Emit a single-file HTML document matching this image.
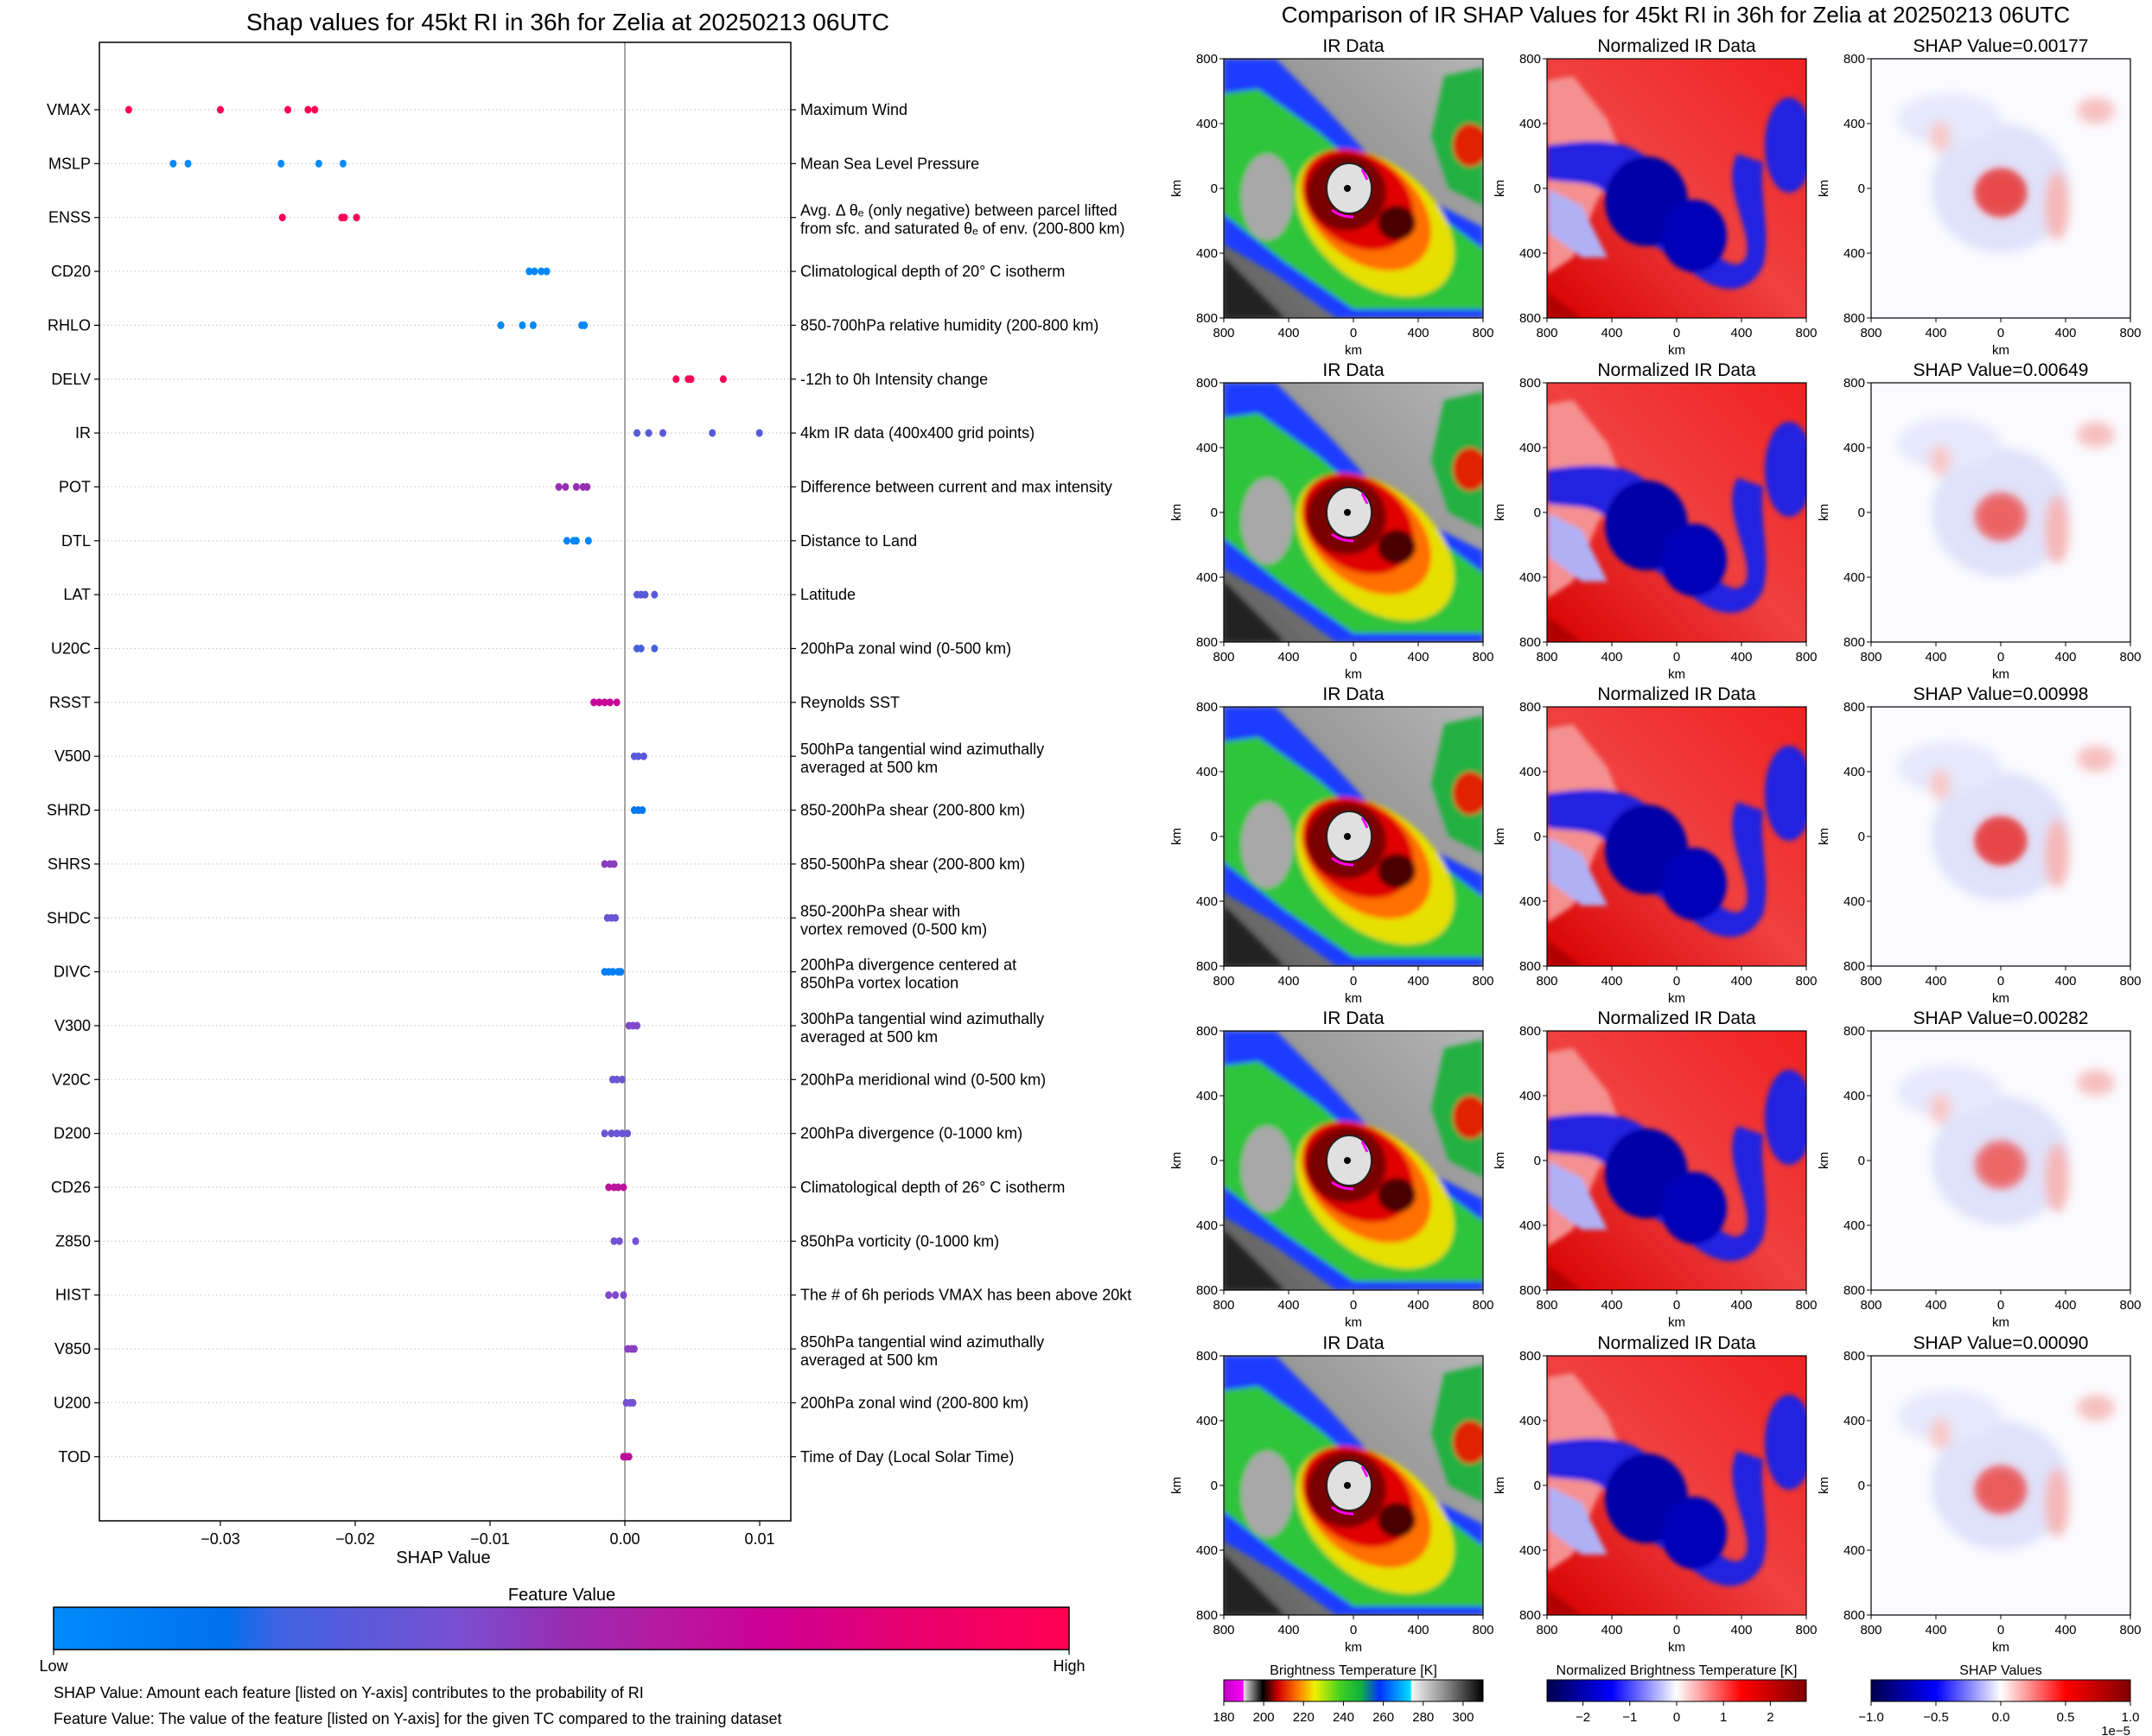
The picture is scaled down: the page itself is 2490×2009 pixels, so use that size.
<!DOCTYPE html>
<html><head><meta charset="utf-8"><title>SHAP RI Zelia</title>
<style>
html,body{margin:0;padding:0;background:#fff;}
svg{display:block;font-family:"Liberation Sans","DejaVu Sans",sans-serif;}
</style></head>
<body>
<svg id="root" xmlns="http://www.w3.org/2000/svg" width="2490" height="2009" viewBox="0 0 2490 2009">
<defs>
  <linearGradient id="fvGrad" x1="0" x2="1" y1="0" y2="0">
    <stop offset="0" stop-color="#008bfb"/><stop offset="0.17" stop-color="#0070ed"/>
    <stop offset="0.22" stop-color="#3e63e2"/><stop offset="0.4" stop-color="#7a4fd0"/>
    <stop offset="0.5" stop-color="#962eb2"/><stop offset="0.6" stop-color="#b51aa0"/>
    <stop offset="0.7" stop-color="#cc0096"/><stop offset="0.85" stop-color="#e8006c"/>
    <stop offset="1" stop-color="#ff0052"/>
  </linearGradient>
  <linearGradient id="irGrad" x1="0" x2="1" y1="0" y2="0">
    <stop offset="0" stop-color="#c000c0"/><stop offset="0.075" stop-color="#ff00ff"/>
    <stop offset="0.077" stop-color="#e0e0e0"/><stop offset="0.15" stop-color="#000"/>
    <stop offset="0.21" stop-color="#d00000"/><stop offset="0.28" stop-color="#ff7000"/>
    <stop offset="0.35" stop-color="#f0f000"/><stop offset="0.45" stop-color="#40d020"/>
    <stop offset="0.53" stop-color="#10b040"/><stop offset="0.6" stop-color="#0030ff"/>
    <stop offset="0.72" stop-color="#00e0ff"/><stop offset="0.725" stop-color="#f4f4f4"/>
    <stop offset="0.85" stop-color="#909090"/><stop offset="1" stop-color="#000"/>
  </linearGradient>
  <linearGradient id="seisGrad" x1="0" x2="1" y1="0" y2="0">
    <stop offset="0" stop-color="#00004c"/><stop offset="0.25" stop-color="#0000ff"/>
    <stop offset="0.5" stop-color="#ffffff"/><stop offset="0.75" stop-color="#ff0000"/>
    <stop offset="1" stop-color="#800000"/>
  </linearGradient>
  <linearGradient id="grayBg" x1="0" y1="1" x2="1" y2="0">
    <stop offset="0" stop-color="#555"/><stop offset="0.4" stop-color="#8a8a8a"/><stop offset="1" stop-color="#b5b5b5"/>
  </linearGradient>
  <linearGradient id="redBg" x1="0" y1="1" x2="1" y2="0">
    <stop offset="0" stop-color="#d80000"/><stop offset="0.5" stop-color="#f04040"/><stop offset="1" stop-color="#f02020"/>
  </linearGradient>
  <filter id="blur3"><feGaussianBlur stdDeviation="3"/></filter>
  <filter id="blur6"><feGaussianBlur stdDeviation="6"/></filter>
  <symbol id="irImg" viewBox="0 0 300 300" preserveAspectRatio="none">
    <rect width="300" height="300" fill="url(#grayBg)"/>
    <g filter="url(#blur3)">
      <polygon points="0,0 60,0 120,60 180,125 240,165 300,195 300,300 130,300 60,250 0,215" fill="#1a3cff"/>
      <polygon points="0,40 40,35 110,85 180,145 260,190 300,220 300,290 150,290 70,235 0,180" fill="#2ec43a"/>
      <ellipse cx="50" cy="160" rx="30" ry="50" fill="#a8a8a8"/>
      <ellipse cx="175" cy="190" rx="105" ry="68" transform="rotate(40 175 190)" fill="#e6e000"/>
      <ellipse cx="165" cy="175" rx="85" ry="58" transform="rotate(40 165 175)" fill="#ff7000"/>
      <ellipse cx="155" cy="163" rx="70" ry="52" transform="rotate(35 155 163)" fill="#e00000"/>
      <ellipse cx="142" cy="155" rx="46" ry="44" fill="#7a0000"/>
      <ellipse cx="200" cy="190" rx="22" ry="20" fill="#4a0000"/>
      <polygon points="255,20 300,10 300,170 260,150 240,90" fill="#20b040"/>
      <ellipse cx="285" cy="100" rx="20" ry="25" fill="#e02000"/>
      <polygon points="0,230 70,300 0,300" fill="#222"/>
    </g>
    <ellipse cx="145" cy="150" rx="26" ry="29" fill="#e0e0e0" stroke="#222" stroke-width="2"/>
    <circle cx="143" cy="150" r="4" fill="#000"/>
    <path d="M125 175 q10 8 25 8" stroke="#ff00ff" stroke-width="3" fill="none"/>
    <path d="M160 128 l6 12" stroke="#ff00ff" stroke-width="3"/>
  </symbol>
  <symbol id="normImg" viewBox="0 0 300 300" preserveAspectRatio="none">
    <rect width="300" height="300" fill="url(#redBg)"/>
    <g filter="url(#blur3)">
      <polygon points="0,25 30,20 70,70 90,120 60,160 30,230 0,250" fill="#f59090"/>
      <path d="M0,100 C40,95 80,90 110,110 C140,130 150,160 170,190 C190,230 220,250 230,230 C240,200 200,150 220,110 L250,120 C245,160 260,200 250,240 C230,280 190,270 160,240 C120,210 80,200 70,160 C60,140 30,145 0,140 Z" fill="#2020e0"/>
      <ellipse cx="115" cy="165" rx="48" ry="52" fill="#0000a8"/>
      <ellipse cx="170" cy="205" rx="38" ry="42" fill="#0000b8"/>
      <ellipse cx="280" cy="100" rx="28" ry="55" fill="#2020e0"/>
      <polygon points="0,150 40,170 70,230 40,230 0,200" fill="#b0b0f5"/>
      <polygon points="0,270 40,300 0,300" fill="#b00000"/>
    </g>
  </symbol>
  <symbol id="shapImg" viewBox="0 0 300 300" preserveAspectRatio="none">
    <rect width="300" height="300" fill="#fbfbff"/>
    <g filter="url(#blur6)">
      <ellipse cx="150" cy="150" rx="80" ry="75" fill="#dfe2fb"/>
      <ellipse cx="90" cy="70" rx="60" ry="30" fill="#e6e8fc"/>
      <ellipse cx="150" cy="155" rx="30" ry="28" fill="#f07a7a"/>
      <ellipse cx="215" cy="170" rx="14" ry="40" fill="#f6b6b6"/>
      <ellipse cx="80" cy="90" rx="12" ry="18" fill="#f8c8c8"/>
      <ellipse cx="260" cy="60" rx="22" ry="15" fill="#f6c0c0"/>
    </g>
  </symbol>
</defs>
<g id="leftChart"></g>
<g id="rightPanels"></g>
</svg>
<script>
// ---- SHAP summary chart data ----
const features = ["VMAX","MSLP","ENSS","CD20","RHLO","DELV","IR","POT","DTL","LAT","U20C","RSST","V500","SHRD","SHRS","SHDC","DIVC","V300","V20C","D200","CD26","Z850","HIST","V850","U200","TOD"];
const descriptions = [
 ["Maximum Wind"],["Mean Sea Level Pressure"],
 ["Avg. \u0394 \u03b8\u2091 (only negative) between parcel lifted","from sfc. and saturated \u03b8\u2091 of env. (200-800 km)"],
 ["Climatological depth of 20\u00b0 C isotherm"],["850-700hPa relative humidity (200-800 km)"],
 ["-12h to 0h Intensity change"],["4km IR data (400x400 grid points)"],
 ["Difference between current and max intensity"],["Distance to Land"],["Latitude"],
 ["200hPa zonal wind (0-500 km)"],["Reynolds SST"],
 ["500hPa tangential wind azimuthally","averaged at 500 km"],["850-200hPa shear (200-800 km)"],
 ["850-500hPa shear (200-800 km)"],["850-200hPa shear with","vortex removed (0-500 km)"],
 ["200hPa divergence centered at","850hPa vortex location"],["300hPa tangential wind azimuthally","averaged at 500 km"],
 ["200hPa meridional wind (0-500 km)"],["200hPa divergence (0-1000 km)"],
 ["Climatological depth of 26\u00b0 C isotherm"],["850hPa vorticity (0-1000 km)"],
 ["The # of 6h periods VMAX has been above 20kt"],["850hPa tangential wind azimuthally","averaged at 500 km"],
 ["200hPa zonal wind (200-800 km)"],["Time of Day (Local Solar Time)"]
];
const shapValues = [
 [-0.0368,-0.0300,-0.0250,-0.0235,-0.0230],
 [-0.0335,-0.0324,-0.0255,-0.0227,-0.0209],
 [-0.0254,-0.0210,-0.0208,-0.0199],
 [-0.0071,-0.0067,-0.0062,-0.0058],
 [-0.0092,-0.0076,-0.0068,-0.0032,-0.0030],
 [0.0038,0.0047,0.0049,0.0073],
 [0.00090,0.00177,0.00282,0.00649,0.00998],
 [-0.0049,-0.0044,-0.0036,-0.0031,-0.0028],
 [-0.0043,-0.0038,-0.0036,-0.0027],
 [0.0009,0.0012,0.0015,0.0022],
 [0.0009,0.0012,0.0022],
 [-0.0023,-0.0019,-0.0015,-0.0011,-0.0006],
 [0.0007,0.0010,0.0014],
 [0.0007,0.0010,0.0013],
 [-0.0015,-0.0011,-0.0008],
 [-0.0013,-0.0010,-0.0007],
 [-0.0015,-0.0012,-0.0009,-0.0005,-0.0003],
 [0.0003,0.0006,0.0009],
 [-0.0009,-0.0006,-0.0002],
 [-0.0015,-0.0010,-0.0006,-0.0002,0.0002],
 [-0.0012,-0.0008,-0.0005,-0.0001],
 [-0.0008,-0.0004,0.0008],
 [-0.0012,-0.0007,-0.0001],
 [0.0002,0.0005,0.0007],
 [0.0001,0.0004,0.0006],
 [-0.0001,0.0001,0.0003]
];
const featureFrac = [1.0,0.0,0.97,0.02,0.02,0.98,0.3,0.5,0.03,0.3,0.25,0.68,0.3,0.12,0.45,0.35,0.08,0.42,0.35,0.35,0.62,0.38,0.42,0.45,0.38,0.65];
const xTicks = [-0.03,-0.02,-0.01,0.0,0.01];
const xTickLabels = ["\u22120.03","\u22120.02","\u22120.01","0.00","0.01"];
const shapPanelValues = ["0.00177","0.00649","0.00998","0.00282","0.00090"];
const irTicks = [180,200,220,240,260,280,300];
const normTicks = [-2,-1,0,1,2];
const shapCbTicks = ["\u22121.0","\u22120.5","0.0","0.5","1.0"];

const NS = "http://www.w3.org/2000/svg";
function el(tag, attrs, parent){ const e=document.createElementNS(NS,tag); for(const k in attrs) e.setAttribute(k,attrs[k]); parent.appendChild(e); return e; }

// axis functions
const AX = {left:115, right:915, top:49, bottom:1760};
function xScale(v){ return 723 + v*15600; }
function yRow(i){ return 127 + i*62.35; }
const cmapStops = [[0,[0,139,251]],[0.17,[0,112,237]],[0.22,[62,99,226]],[0.4,[122,79,208]],[0.5,[150,46,178]],[0.6,[181,26,160]],[0.7,[204,0,150]],[0.85,[232,0,108]],[1,[255,0,82]]];
function cmap(t){ for(let i=1;i<cmapStops.length;i++){ if(t<=cmapStops[i][0]){ const a=cmapStops[i-1],b=cmapStops[i]; const f=(t-a[0])/(b[0]-a[0]); const c=a[1].map((v,j)=>Math.round(v+(b[1][j]-v)*f)); return "rgb("+c.join(",")+")"; } } return "rgb(255,0,82)"; }

const L = document.getElementById("leftChart");
let t = el("text",{x:657,y:35,"text-anchor":"middle","font-size":28,fill:"#000"},L);


t.textContent="Shap values for 45kt RI in 36h for Zelia at 20250213 06UTC";

features.forEach((f,i)=>{
  const y=yRow(i);
  const g=el("line",{x1:AX.left,x2:AX.right,y1:y,y2:y,stroke:"#ccc","stroke-width":1.2,"stroke-dasharray":"1.5,3"},L);
  
  
  const tk=el("line",{x1:AX.left-6,x2:AX.left,y1:y,y2:y,stroke:"#000","stroke-width":1.2},L);
  
  
  const tk2=el("line",{x1:AX.right,x2:AX.right+6,y1:y,y2:y,stroke:"#000","stroke-width":1.2},L);
  
  
  const lab=el("text",{x:AX.left-10,y:y+6,"text-anchor":"end","font-size":18,fill:"#000"},L);
  
  
  lab.textContent=f;
  const d=descriptions[i];
  const dt=el("text",{x:926,y:(d.length>1? y-2 : y+6),"font-size":18,fill:"#000"},L);
  
  
  d.forEach((line,k)=>{ const ts=el("tspan",{x:926,dy:(k===0?0:21)},dt); ts.textContent=line; });
});
let zl=el("line",{x1:xScale(0),x2:xScale(0),y1:AX.top,y2:AX.bottom,stroke:"#888","stroke-width":1.5},L);


shapValues.forEach((vals,i)=>{
  vals.forEach(v=>{
    const c=el("ellipse",{cx:xScale(v),cy:yRow(i),rx:4,ry:4.5,fill:cmap(featureFrac[i])},L);
    
    
  });
});
let fr=el("rect",{x:AX.left,y:AX.top,width:AX.right-AX.left,height:AX.bottom-AX.top,fill:"none",stroke:"#000","stroke-width":1.5},L);


xTicks.forEach((v,i)=>{
  const x=xScale(v);
  const tk=el("line",{x1:x,x2:x,y1:AX.bottom,y2:AX.bottom+6,stroke:"#000","stroke-width":1.2},L);
  
  
  const tl=el("text",{x:x,y:AX.bottom+27,"text-anchor":"middle","font-size":18,fill:"#000"},L);
  
  
  tl.textContent=xTickLabels[i];
});
let xl=el("text",{x:513,y:1809,"text-anchor":"middle","font-size":20,fill:"#000"},L);


xl.textContent="SHAP Value";
let ft=el("text",{x:650,y:1852,"text-anchor":"middle","font-size":20,fill:"#000"},L);


ft.textContent="Feature Value";
let cb=el("rect",{x:62,y:1860,width:1175,height:49,fill:"url(#fvGrad)",stroke:"#000","stroke-width":1.5},L);


[[62,"Low"],[1237,"High"]].forEach(p=>{
  const tk=el("line",{x1:p[0],x2:p[0],y1:1909,y2:1915,stroke:"#000","stroke-width":1.2},L);
  
  
  const tl=el("text",{x:p[0],y:1934,"text-anchor":"middle","font-size":18,fill:"#000"},L);
  
  
  tl.textContent=p[1];
});
[["SHAP Value: Amount each feature [listed on Y-axis] contributes to the probability of RI",1965,'shap-value-note'],
 ["Feature Value: The value of the feature [listed on Y-axis] for the given TC compared to the training dataset",1995,'feature-value-note']].forEach(n=>{
  const tx=el("text",{x:62,y:n[1],"font-size":18,fill:"#000"},L);
  
  
  tx.textContent=n[0];
});

// ---- right panels ----
const R=document.getElementById("rightPanels");
let rt=el("text",{x:1939,y:26,"text-anchor":"middle","font-size":26,fill:"#000"},R);


rt.textContent="Comparison of IR SHAP Values for 45kt RI in 36h for Zelia at 20250213 06UTC";
const colX=[1416,1790,2165];
const rowY=[68,443,818,1193,1569];
const kmLabels=["800","400","0","400","800"];
const syms=["#irImg","#normImg","#shapImg"];
const symNames=["ir-data-image","normalized-ir-image","shap-value-image"];
const shapBoost=[0.55,0.25,0.6,0.2,0.35];
rowY.forEach((y0,r)=>{
  colX.forEach((x0,c)=>{
    const u=el("use",{href:syms[c],x:x0,y:y0,width:300,height:300},R);
    
    
    if(c===2){
      const o=el("ellipse",{cx:x0+150,cy:y0+155,rx:30,ry:28,fill:"#e02020",opacity:shapBoost[r],filter:"url(#blur3)"},R);
      
      
    }
    const fr=el("rect",{x:x0,y:y0,width:300,height:300,fill:"none",stroke:"#000","stroke-width":1.2},R);
    
    
    const title=["IR Data","Normalized IR Data","SHAP Value="+shapPanelValues[r]][c];
    const tt=el("text",{x:x0+150,y:y0-8,"text-anchor":"middle","font-size":21,fill:"#000"},R);
    
    
    tt.textContent=title;
    kmLabels.forEach((k,i)=>{
      const yy=y0+i*75, xx=x0+i*75;
      const a=el("line",{x1:x0-5,x2:x0,y1:yy,y2:yy,stroke:"#000"},R);
      
      
      const at=el("text",{x:x0-7,y:yy+5,"text-anchor":"end","font-size":15,fill:"#000"},R);
      
      
      at.textContent=k;
      const b=el("line",{x1:xx,x2:xx,y1:y0+300,y2:y0+305,stroke:"#000"},R);
      
      
      const bt=el("text",{x:xx,y:y0+322,"text-anchor":"middle","font-size":15,fill:"#000"},R);
      
      
      bt.textContent=k;
    });
    const xk=el("text",{x:x0+150,y:y0+342,"text-anchor":"middle","font-size":15,fill:"#000"},R);
    
    
    xk.textContent="km";
    const yk=el("text",{x:x0-50,y:y0+150,"text-anchor":"middle","font-size":15,fill:"#000",transform:"rotate(-90 "+(x0-50)+" "+(y0+150)+")"},R);
    
    
    yk.textContent="km";
  });
});
// colorbars
const cbs=[
 {x:1416,grad:"url(#irGrad)",title:"Brightness Temperature [K]",name:"ir-colorbar"},
 {x:1790,grad:"url(#seisGrad)",title:"Normalized Brightness Temperature [K]",name:"normalized-colorbar"},
 {x:2165,grad:"url(#seisGrad)",title:"SHAP Values",name:"shap-colorbar"}];
cbs.forEach((c,ci)=>{
  const tt=el("text",{x:c.x+150,y:1938,"text-anchor":"middle","font-size":16,fill:"#000"},R);
  
  
  tt.textContent=c.title;
  const r=el("rect",{x:c.x,y:1944,width:300,height:25,fill:c.grad,stroke:"#000","stroke-width":1},R);
  
  
});
function irX(v){ return 1416 + (v-180)/130*300; }
function normX(v){ return 1940 + v*54.2; }
function shapX(i){ return 2165 + i*75; }
function cbTick(x,label){
  const a=el("line",{x1:x,x2:x,y1:1969,y2:1974,stroke:"#000"},R);
  
  
  const t=el("text",{x:x,y:1992,"text-anchor":"middle","font-size":15,fill:"#000"},R);
  
  
  t.textContent=label;
}
irTicks.forEach(v=>cbTick(irX(v),String(v)));
normTicks.forEach(v=>cbTick(normX(v),v<0?"\u2212"+Math.abs(v):String(v)));
shapCbTicks.forEach((l,i)=>cbTick(shapX(i),l));
let ex=el("text",{x:2465,y:2008,"text-anchor":"end","font-size":15,fill:"#000"},R);


ex.textContent="1e\u22125";
</script>
</body></html>
